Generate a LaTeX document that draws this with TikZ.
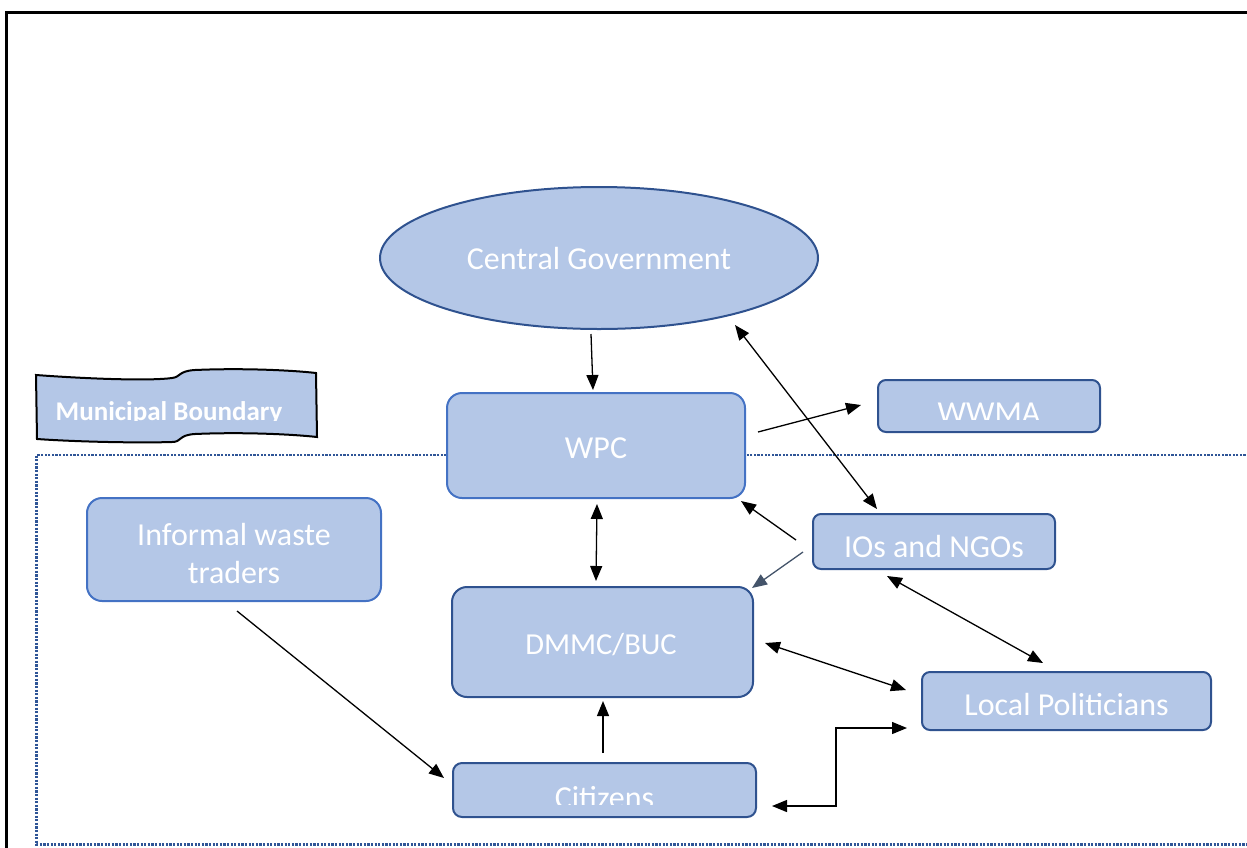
\documentclass[tikz,border=0pt]{standalone}
\usepackage{fontspec}
\setmainfont{Carlito}
\usetikzlibrary{arrows.meta,calc,shapes.geometric}
\definecolor{bfill}{HTML}{B4C7E7}
\definecolor{bdark}{HTML}{2F528F}
\definecolor{blight}{HTML}{4472C4}
\definecolor{dotc}{HTML}{2F5597}
\definecolor{grayarr}{HTML}{44546A}
\tikzset{
  boxd/.style={draw=bdark, fill=bfill, line width=2pt, inner sep=0pt},
  boxl/.style={draw=blight, fill=bfill, line width=2pt, inner sep=0pt},
  txt/.style={text=white, font=\fontsize{32}{38}\selectfont, anchor=base, inner sep=0pt},
  tip/.tip={Triangle[length=15pt,width=12pt]},
  arr/.style={draw=black, line width=1.3pt, -tip},
  darr/.style={draw=black, line width=1.3pt, tip-tip},
}
\begin{document}
\begin{tikzpicture}[x=1pt,y=-1pt]
\useasboundingbox (0,0) rectangle (1247,847);
% outer frame
\draw[line width=3pt, black] (6.2,860) -- (6.2,12) -- (1260,12);
% municipal dotted boundary
\draw[dotc, line width=2.5pt, dash pattern=on 2.2pt off 1.4pt] (1260,455) -- (36.5,455) -- (36.5,844.5) -- (1260,844.5);

% municipal boundary banner
\draw[black, line width=2pt, fill=bfill] (36,375) .. controls (90,379) and (150,381) .. (172,378)
  .. controls (181,377) and (178,371) .. (195,370) .. controls (240,368) and (290,370) .. (316,373)
  -- (317,437) .. controls (290,434) and (240,432) .. (195,434)
  .. controls (178,435) and (182,442) .. (172,442) .. controls (140,443) and (80,442) .. (37,439) -- cycle;
\begin{scope}
  \clip (40,380) rectangle (312,420);
  \node[txt, font=\bfseries\fontsize{27}{32}\selectfont] (mbt) at (169,420) {Municipal Boundary};
\end{scope}

% nodes
\node[boxd, ellipse, minimum width=438pt, minimum height=142pt] (cg) at (599,258) {};
\node[txt] (cgt) at (599,269) {Central Government};

\node[boxl, rounded corners=15pt, minimum width=298pt, minimum height=105pt] (wpc) at (596,445.5) {};
\node[txt] (wpct) at (596,458.5) {WPC};

\node[boxd, rounded corners=8pt, minimum width=222pt, minimum height=52pt] (wwma) at (989,406) {};
\begin{scope}
  \clip (880,382) rectangle (1098,419);
  \node[txt] (wwmat) at (989,423) {WWMA};
\end{scope}

\node[boxl, rounded corners=15pt, minimum width=294pt, minimum height=103pt] (inf) at (234,549.5) {};
\node[txt] (inft1) at (234,545) {Informal waste};
\node[txt] (inft2) at (234,583) {traders};

\node[boxd, rounded corners=8pt, minimum width=242pt, minimum height=55pt] (ios) at (934,541.5) {};
\begin{scope}
  \clip (815,516) rectangle (1053,563);
  \node[txt] (iost) at (934,557) {IOs and NGOs};
\end{scope}

\node[boxd, rounded corners=15pt, minimum width=301pt, minimum height=110pt] (dmmc) at (602.5,642) {};
\node[txt, font=\fontsize{30.5}{36}\selectfont] (dmmct) at (601,654) {DMMC/BUC};

\node[boxd, rounded corners=8pt, minimum width=289pt, minimum height=58pt] (loc) at (1066.5,701) {};
\node[txt] (loct) at (1066.5,715) {Local Politicians};

\node[boxd, rounded corners=9pt, minimum width=303pt, minimum height=54pt] (cit) at (604.5,790) {};
\begin{scope}
  \clip (455,765) rectangle (754,804);
  \node[txt] (citt) at (604.5,808) {Citizens};
\end{scope}

% connectors
\draw[arr] ($(cg.south)+(-8,4)$) -- ($(wpc.north)+(-3,-2)$);
\draw[arr] ($(wpc.east)+(12,-13.5)$) -- ($(wwma.west)+(-16,-1)$);
\draw[darr] ($(cg.center)+(136,67)$) -- ($(ios.north)+(-57,-4)$);
\draw[arr] ($(ios.west)+(-16,-1.5)$) -- ($(wpc.south east)+(-5,2)$);
\draw[line width=1.3pt, grayarr, -{Triangle[length=15pt,width=12pt]}] ($(ios.west)+(-9,10.5)$) -- ($(dmmc.north east)+(-2,2)$);
\draw[darr] ($(wpc.south)+(1,5)$) -- ($(dmmc.north)+(-6.5,-5)$);
\draw[darr] ($(ios.south)+(-47,6)$) -- ($(loc.north)+(-23.5,-8)$);
\draw[darr] ($(dmmc.east)+(11,1)$) -- ($(loc.west)+(-15,-11)$);
\draw[arr] ($(cit.north)+(-1.5,-9)$) -- ($(dmmc.south)+(0.5,3)$);
\draw[arr] ($(inf.south)+(3,9)$) -- ($(cit.west)+(-8,-12)$);
\draw[darr] ($(loc.west)+(-14,27)$) -- ++(-71,0) |- ($(cit.east)+(15,16)$);
\end{tikzpicture}
\end{document}
